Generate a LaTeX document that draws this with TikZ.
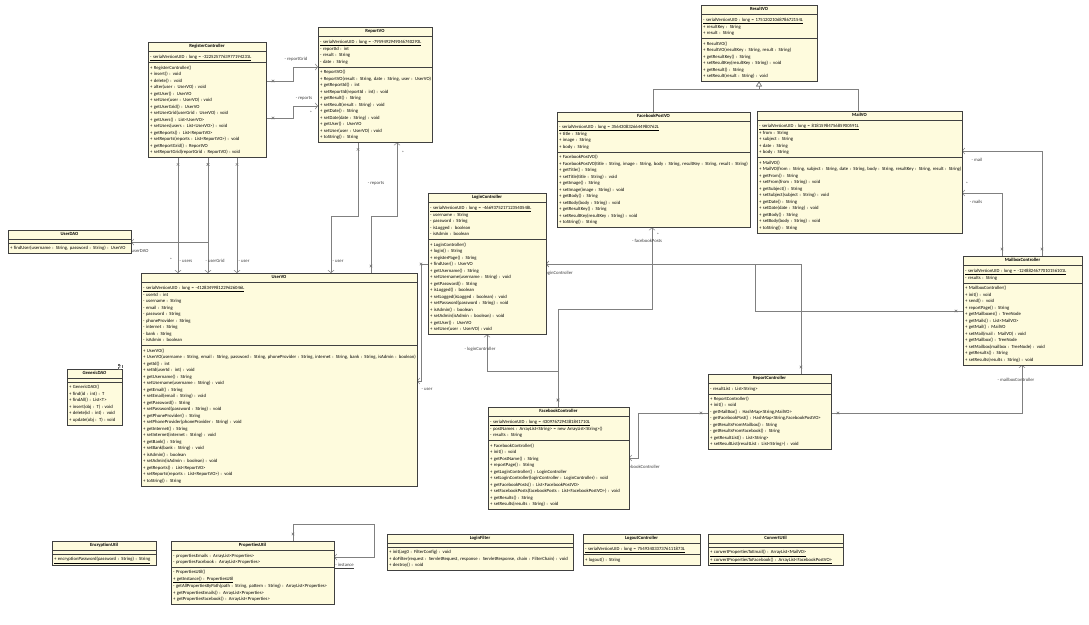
\documentclass[tikz,border=0pt]{standalone}
\usepackage{fontspec}
\setmainfont{Carlito}
\usetikzlibrary{shapes.multipart,arrows.meta,decorations.markings}
\definecolor{classfill}{RGB}{254,251,221}
\newcommand\umlfont{\fontsize{4.7}{6.5}\selectfont}
\newcommand\ctitle[1]{\hbox to \hsize{\hfil\rule[-2pt]{0pt}{6pt}\textbf{#1}\hfil}}
\newcommand\mlines[1]{\begin{tabular}{@{}l@{}}#1\end{tabular}}
\setlength{\parindent}{0pt}
\pgfdeclarelayer{bg}
\pgfsetlayers{bg,main}
\tikzset{
  umlclass/.style={rectangle split, rectangle split parts=3, rectangle split ignore empty parts=false,
    draw=black!75, line width=0.7pt, fill=classfill, anchor=north west,
    inner xsep=2pt, inner ysep=1.5pt, outer sep=0pt, font=\umlfont},
  assoc/.style={draw=black!50, line width=0.5pt, -{Straight Barb[length=2.5pt,width=6pt]}},
  inherit/.style={draw=black!50, line width=0.5pt, -{Triangle[open,length=5pt,width=6pt]}},
  xstart/.style={postaction={decorate}, decoration={markings, mark=at position 7pt with
    {\draw[-, black!55, line width=0.4pt] (-1.3pt,-1.3pt) -- (1.3pt,1.3pt) (-1.3pt,1.3pt) -- (1.3pt,-1.3pt);}}},
  rolelabel/.style={font=\umlfont, text=black!75, inner sep=0pt},
}
\begin{document}
\begin{tikzpicture}[x=1pt, y=-1pt]
\begin{pgfonlayer}{bg}
\fill[white] (0,0) rectangle (1089,624);
\end{pgfonlayer}
\useasboundingbox (0,0) rectangle (1089,624);

\node[umlclass, text width=114pt] (regctrl) at (148,42) {\ctitle{RegisterController}
\nodepart{second}\mlines{\underline{- serialVersionUID : long = -3225257763977194231L}}
\nodepart{third}\mlines{+ RegisterController()\\
+ insert() : void\\
+ delete() : void\\
+ alter(user : UserVO) : void\\
+ getUser() : UserVO\\
+ setUser(user : UserVO) : void\\
+ getUserGrid() : UserVO\\
+ setUserGrid(userGrid : UserVO) : void\\
+ getUsers() : List<UserVO>\\
+ setUsers(users : List<UserVO>) : void\\
+ getReports() : List<ReportVO>\\
+ setReports(reports : List<ReportVO>) : void\\
+ getReportGrid() : ReportVO\\
+ setReportGrid(reportGrid : ReportVO) : void}};

\node[umlclass, text width=110pt] (reportvo) at (318,27) {\ctitle{ReportVO}
\nodepart{second}\mlines{\underline{- serialVersionUID : long = -7959492949046740293L}\\
- reportId : int\\
- result : String\\
- date : String}
\nodepart{third}\mlines{+ ReportVO()\\
+ ReportVO(result : String, date : String, user : UserVO)\\
+ getReportId() : int\\
+ setReportId(reportId : int) : void\\
+ getResult() : String\\
+ setResult(result : String) : void\\
+ getDate() : String\\
+ setDate(date : String) : void\\
+ getUser() : UserVO\\
+ setUser(user : UserVO) : void\\
+ toString() : String}};

\node[umlclass, text width=112pt] (resultvo) at (701,5) {\ctitle{ResultVO}
\nodepart{second}\mlines{\underline{- serialVersionUID : long = 1751202106878672154L}\\
+ resultKey : String\\
+ result : String}
\nodepart{third}\mlines{+ ResultVO()\\
+ ResultVO(resultKey : String, result : String)\\
+ getResultKey() : String\\
+ setResultKey(resultKey : String) : void\\
+ getResult() : String\\
+ setResult(result : String) : void}};

\node[umlclass, text width=189pt] (fbpostvo) at (557,112) {\ctitle{FacebookPostVO}
\nodepart{second}\mlines{\underline{- serialVersionUID : long = 3564308326644980762L}\\
+ title : String\\
+ image : String\\
+ body : String}
\nodepart{third}\mlines{+ FacebookPostVO()\\
+ FacebookPostVO(title : String, image : String, body : String, resultKey : String, result : String)\\
+ getTitle() : String\\
+ setTitle(title : String) : void\\
+ getImage() : String\\
+ setImage(image : String) : void\\
+ getBody() : String\\
+ setBody(body : String) : void\\
+ getResultKey() : String\\
+ setResultKey(resultKey : String) : void\\
+ toString() : String}};

\node[umlclass, text width=201pt] (mailvo) at (757,111) {\ctitle{MailVO}
\nodepart{second}\mlines{\underline{- serialVersionUID : long = 8181598475685900591L}\\
+ from : String\\
+ subject : String\\
+ date : String\\
+ body : String}
\nodepart{third}\mlines{+ MailVO()\\
+ MailVO(from : String, subject : String, date : String, body : String, resultKey : String, result : String)\\
+ getFrom() : String\\
+ setFrom(from : String) : void\\
+ getSubject() : String\\
+ setSubject(subject : String) : void\\
+ getDate() : String\\
+ setDate(date : String) : void\\
+ getBody() : String\\
+ setBody(body : String) : void\\
+ toString() : String}};

\node[umlclass, text width=119pt] (userdao) at (8,230) {\ctitle{UserDAO}
\nodepart{second}
\nodepart{third}\mlines{+ findUser(username : String, password : String) : UserVO}};

\node[umlclass, text width=272pt] (uservo) at (141,273) {\ctitle{UserVO}
\nodepart{second}\mlines{\underline{- serialVersionUID : long = -4128349981229626046L}\\
- userId : int\\
- username : String\\
- email : String\\
- password : String\\
- phoneProvider : String\\
- internet : String\\
- bank : String\\
- isAdmin : boolean}
\nodepart{third}\mlines{+ UserVO()\\
+ UserVO(username : String, email : String, password : String, phoneProvider : String, internet : String, bank : String, isAdmin : boolean)\\
+ getId() : int\\
+ setId(userId : int) : void\\
+ getUsername() : String\\
+ setUsername(username : String) : void\\
+ getEmail() : String\\
+ setEmail(email : String) : void\\
+ getPassword() : String\\
+ setPassword(password : String) : void\\
+ getPhoneProvider() : String\\
+ setPhoneProvider(phoneProvider : String) : void\\
+ getInternet() : String\\
+ setInternet(internet : String) : void\\
+ getBank() : String\\
+ setBank(bank : String) : void\\
+ isAdmin() : boolean\\
+ setAdmin(isAdmin : boolean) : void\\
+ getReports() : List<ReportVO>\\
+ setReports(reports : List<ReportVO>) : void\\
+ toString() : String}};

\node[umlclass, text width=51pt] (gdao) at (67,369) {\ctitle{\textit{GenericDAO}}
\nodepart{second}
\nodepart{third}\mlines{+ GenericDAO()\\
+ find(id : int) : T\\
+ findAll() : List<T>\\
+ insert(obj : T) : void\\
+ delete(id : int) : void\\
+ update(obj : T) : void}};
\node[draw=black!60, densely dashed, fill=white, font=\umlfont, inner sep=0.8pt] (gdaotpl) at (120,367) {T};

\node[umlclass, text width=114pt] (loginctrl) at (428,193) {\ctitle{LoginController}
\nodepart{second}\mlines{\underline{- serialVersionUID : long = -4669375217123540548L}\\
- username : String\\
- password : String\\
- isLogged : boolean\\
- isAdmin : boolean}
\nodepart{third}\mlines{+ LoginController()\\
+ login() : String\\
+ registerPage() : String\\
+ findUser() : UserVO\\
+ getUsername() : String\\
+ setUsername(username : String) : void\\
+ getPassword() : String\\
+ isLogged() : boolean\\
+ setLogged(isLogged : boolean) : void\\
+ setPassword(password : String) : void\\
+ isAdmin() : boolean\\
+ setAdmin(isAdmin : boolean) : void\\
+ getUser() : UserVO\\
+ setUser(user : UserVO) : void}};

\node[umlclass, text width=137pt] (fbctrl) at (488,407) {\ctitle{FacebookController}
\nodepart{second}\mlines{\underline{- serialVersionUID : long = 4309767294381841710L}\\
- postNames : ArrayList<String> = new ArrayList<String>()\\
- results : String}
\nodepart{third}\mlines{+ FacebookController()\\
+ init() : void\\
+ getPostName() : String\\
+ reportPage() : String\\
+ getLoginController() : LoginController\\
+ setLoginController(loginController : LoginController) : void\\
+ getFacebookPosts() : List<FacebookPostVO>\\
+ setFacebookPosts(facebookPosts : List<FacebookPostVO>) : void\\
+ getResults() : String\\
+ setResults(results : String) : void}};

\node[umlclass, text width=119pt] (repctrl) at (708,374) {\ctitle{ReportController}
\nodepart{second}\mlines{- resultList : List<String>}
\nodepart{third}\mlines{+ ReportController()\\
+ init() : void\\
- getMailBox() : HashMap<String,MailVO>\\
- getFacebookPost() : HashMap<String,FacebookPostVO>\\
- getResultsFromMailbox() : String\\
- getResultsFromFacebook() : String\\
+ getResultList() : List<String>\\
+ setResultList(resultList : List<String>) : void}};

\node[umlclass, text width=115pt] (mboxctrl) at (963,256) {\ctitle{MailboxController}
\nodepart{second}\mlines{\underline{- serialVersionUID : long = -1248824677010156101L}\\
- results : String}
\nodepart{third}\mlines{+ MailboxController()\\
+ init() : void\\
+ send() : void\\
+ reportPage() : String\\
+ getMailboxes() : TreeNode\\
+ getMails() : List<MailVO>\\
+ getMail() : MailVO\\
+ setMail(mail : MailVO) : void\\
+ getMailbox() : TreeNode\\
+ setMailbox(mailbox : TreeNode) : void\\
+ getResults() : String\\
+ setResults(results : String) : void}};

\node[umlclass, text width=100pt] (encutil) at (52,541) {\ctitle{EncryptionUtil}
\nodepart{second}
\nodepart{third}\mlines{\underline{+ encryptionPassword(password : String) : String}}};

\node[umlclass, text width=159pt] (propsutil) at (171,541) {\ctitle{PropertiesUtil}
\nodepart{second}\mlines{- propertiesEmails : ArrayList<Properties>\\
- propertiesFacebook : ArrayList<Properties>}
\nodepart{third}\mlines{- PropertiesUtil()\\
\underline{+ getInstance() : PropertiesUtil}\\
- getAllPropertiesByPath(path : String, pattern : String) : ArrayList<Properties>\\
+ getPropertiesEmails() : ArrayList<Properties>\\
+ getPropertiesFacebook() : ArrayList<Properties>}};

\node[umlclass, text width=182pt] (loginfilter) at (387,534) {\ctitle{LoginFilter}
\nodepart{second}
\nodepart{third}\mlines{+ init(arg0 : FilterConfig) : void\\
+ doFilter(request : ServletRequest, response : ServletResponse, chain : FilterChain) : void\\
+ destroy() : void}};

\node[umlclass, text width=113pt] (logoutctrl) at (583,534) {\ctitle{LogoutController}
\nodepart{second}\mlines{\underline{- serialVersionUID : long = 7549340337376111873L}}
\nodepart{third}\mlines{+ logout() : String}};

\node[umlclass, text width=131pt] (convutil) at (708,534) {\ctitle{ConvertUtil}
\nodepart{second}
\nodepart{third}\mlines{\underline{+ convertPropertiesToEmail() : ArrayList<MailVO>}\\
\underline{+ convertPropertiesToFacebook() : ArrayList<FacebookPostVO>}}};

\begin{pgfonlayer}{bg}
\draw[assoc, xstart] (regctrl.east |- 0,81) -- (293,81) |- (reportvo.west |- 0,67);
\draw[assoc, xstart] (regctrl.east |- 0,118) -- (293,118) |- (reportvo.west |- 0,106);
\draw[assoc, xstart] (178,0 |- regctrl.south) -- (178,0 |- uservo.north);
\draw[assoc, xstart] (208,0 |- regctrl.south) -- (208,0 |- uservo.north);
\draw[assoc, xstart] (237,0 |- regctrl.south) -- (237,0 |- uservo.north);
\draw[assoc, xstart] (208,0 |- regctrl.south) |- (userdao.east |- 0,242);
\draw[assoc, xstart] (358,0 |- reportvo.south) -- (358,216) -| (331,0 |- uservo.north);
\draw[assoc, xstart] (371,0 |- uservo.north) -- (371,216) -| (397,0 |- reportvo.south);
\draw[assoc, xstart] (loginctrl.west |- 0,264) -- (421,264) |- (uservo.east |- 0,381);
\draw[assoc, xstart] (558,0 |- fbctrl.north) -- (558,371) -| (487,0 |- loginctrl.south);
\draw[assoc, xstart] (558,0 |- fbctrl.north) -- (558,309) -| (652,0 |- fbpostvo.south);
\draw[assoc, xstart] (801,0 |- repctrl.north) |- (loginctrl.east |- 0,264);
\draw[assoc, xstart] (mboxctrl.west |- 0,311) -- (755,311) |- (loginctrl.east |- 0,264);
\draw[assoc, xstart] (repctrl.west |- 0,413) -- (638,413) |- (fbctrl.east |- 0,458);
\draw[assoc, xstart] (repctrl.east |- 0,413) -| (1022,0 |- mboxctrl.south);
\draw[assoc, xstart] (1042,0 |- mboxctrl.north) |- (mailvo.east |- 0,151);
\draw[assoc, xstart] (1002,0 |- mboxctrl.north) |- (mailvo.east |- 0,193);
\draw[assoc, xstart] (293,0 |- propsutil.north) -- (293,524) -- (374,524) |- (propsutil.east |- 0,557);
\draw[inherit] (653,0 |- fbpostvo.north) |- (resultvo.south |- 0,89) -- (resultvo.south);
\draw[inherit] (858,0 |- mailvo.north) |- (resultvo.south |- 0,89) -- (resultvo.south);

\node[rolelabel] (lreportgrid) at (296,59) {- reportGrid};
\node[rolelabel] (lreports1) at (304,98) {- reports};
\node[rolelabel] (mreports1) at (311,113) {*};
\node[rolelabel] (musers) at (171,260) {*};
\node[rolelabel] (lusers) at (186,261) {- users};
\node[rolelabel] (lusergrid) at (215,261) {- userGrid};
\node[rolelabel] (luser1) at (244,261) {- user};
\node[rolelabel, anchor=west] (luserdao) at (129,251) {- userDAO};
\node[rolelabel] (luser2) at (338,261) {- user};
\node[rolelabel] (lreports2) at (376,183) {- reports};
\node[rolelabel] (mreports2) at (403,153) {*};
\node[rolelabel] (luser3) at (427,389) {- user};
\node[rolelabel] (llogin1) at (480,349) {- loginController};
\node[rolelabel] (lfbposts) at (647,241) {- facebookPosts};
\node[rolelabel] (mfbposts) at (658,235) {*};
\node[rolelabel, anchor=east] (llogin2) at (573,273) {- loginController};
\node[rolelabel, anchor=east] (lfbctrl) at (660,467) {- facebookController};
\node[rolelabel] (lmboxctrl) at (1016,380) {- mailboxController};
\node[rolelabel] (lmail) at (977,160) {- mail};
\node[rolelabel] (mmails) at (967,184) {*};
\node[rolelabel] (lmails) at (976,202) {- mails};
\node[rolelabel, anchor=east] (linstance) at (354,566) {\underline{- instance}};
\end{pgfonlayer}
\end{tikzpicture}
\end{document}
